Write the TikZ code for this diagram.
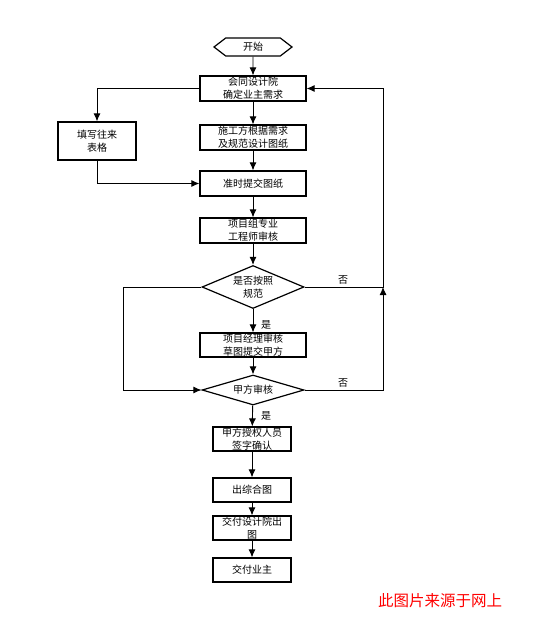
\documentclass[tikz,border=0pt]{standalone}
\usepackage{fontspec}
\setmainfont{Noto Sans CJK SC}
\usetikzlibrary{shapes.geometric,shapes.symbols,arrows.meta}
\begin{document}
\begin{tikzpicture}[x=1pt,y=-1pt,
  every node/.style={font=\fontsize{10}{13}\selectfont, inner sep=0pt},
  box/.style={draw, line width=1.2pt, minimum width=106pt, minimum height=25pt, align=center},
  sbox/.style={draw, line width=1.2pt, minimum width=78pt, minimum height=24pt, align=center},
  dia/.style={draw, line width=1.2pt, diamond, minimum width=102pt, align=center},
  arr/.style={line width=0.9pt, -{Latex[length=8pt,width=7pt]}},
  lab/.style={font=\fontsize{10}{12}\selectfont}
]
\useasboundingbox (0,0) rectangle (534,617);
\node[draw, line width=1.2pt, signal, signal to=west and east, signal pointer angle=75,
      minimum width=78pt, minimum height=18pt] (start) at (253,47) {开始};
\node[box] (b1) at (253,88.5) {会同设计院\\确定业主需求};
\node[draw, line width=1.2pt, minimum width=78pt, minimum height=38pt, align=center] (left) at (97,141) {填写往来\\表格};
\node[box] (b2) at (253,137.5) {施工方根据需求\\及规范设计图纸};
\node[box] (b3) at (253,183.5) {准时提交图纸};
\node[box] (b4) at (253,230.5) {项目组专业\\工程师审核};
\node[dia, minimum height=43pt, aspect=2.4] (d1) at (253,287) {是否按照\\规范};
\node[box, minimum height=24pt] (b5) at (253,345) {项目经理审核\\草图提交甲方};
\node[dia, minimum height=30pt, aspect=3.4] (d2) at (253,390) {甲方审核};
\node[sbox] (b6) at (252,439) {甲方授权人员\\签字确认};
\node[sbox] (b7) at (252,490) {出综合图};
\node[sbox] (b8) at (252,528) {交付设计院出\\图};
\node[sbox] (b9) at (252,570) {交付业主};

\coordinate (r1) at (383,287);
\coordinate (r2) at (383,390);
\coordinate (l1) at (123,287);

\draw[arr] (start) -- (b1);
\draw[arr] (b1) -- (b2);
\draw[arr] (b2) -- (b3);
\draw[arr] (b3) -- (b4);
\draw[arr] (b4) -- (d1);
\draw[arr] (d1) -- (b5);
\draw[arr] (b5) -- (d2);
\draw[arr] (d2) -- (b6);
\draw[arr] (b6) -- (b7);
\draw[arr] (b7) -- (b8);
\draw[arr] (b8) -- (b9);
\draw[arr] (b1.west) -| (left.north);
\draw[arr] (left.south) |- (b3.west);
\draw[arr] (d2.east) -- (r2) -- (r1);
\draw[arr] (d1.east) -- (r1) |- (b1.east);
\draw[arr] (d1.west) -- (l1) |- (d2.west);

\node[lab] (n1) at (343,280) {否};
\node[lab] (n2) at (343,383) {否};
\node[lab] (y1) at (266,325) {是};
\node[lab] (y2) at (266,416) {是};
\node[font=\fontsize{15.5}{16}\selectfont, text=red] (wm) at (440,601) {此图片来源于网上};
\end{tikzpicture}
\end{document}
